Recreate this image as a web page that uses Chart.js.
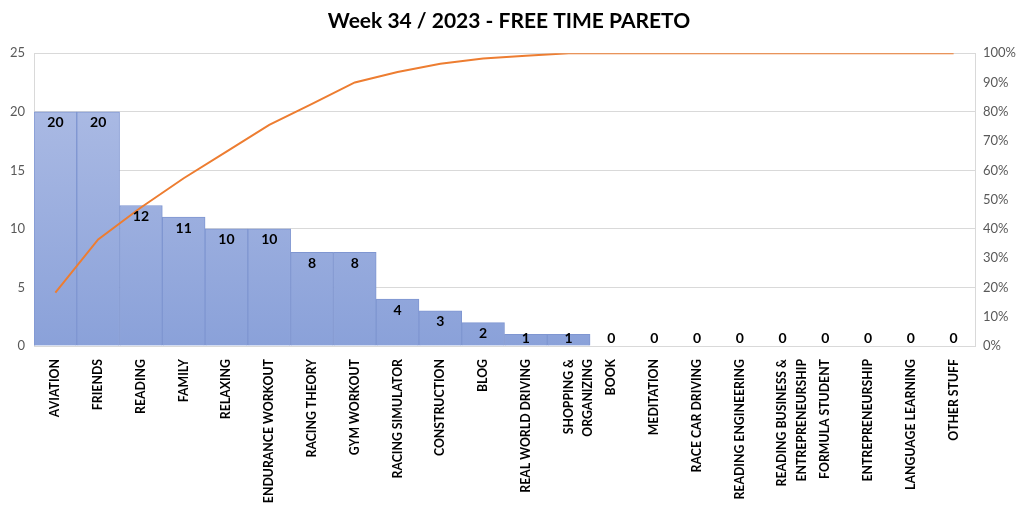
<!DOCTYPE html>
<html>
<head>
<meta charset="utf-8">
<script src="https://cdn.jsdelivr.net/npm/chart.js@4"></script>
<style>
  html, body { margin: 0; padding: 0; background: #fff; }
  #wrap { width: 1023px; height: 510px; }
</style>
</head>
<body>
<div id="wrap"><canvas id="myChart" width="1023" height="510"></canvas></div>
<script>
const categories = ['AVIATION', 'FRIENDS', 'READING', 'FAMILY', 'RELAXING', 'ENDURANCE WORKOUT',
  'RACING THEORY', 'GYM WORKOUT', 'RACING SIMULATOR', 'CONSTRUCTION', 'BLOG', 'REAL WORLD DRIVING',
  ['SHOPPING &', 'ORGANIZING'], 'BOOK', 'MEDITATION', 'RACE CAR DRIVING', 'READING ENGINEERING',
  ['READING BUSINESS &', 'ENTREPRENEURSHIP'], 'FORMULA STUDENT', 'ENTREPRENEURSHIP',
  'LANGUAGE LEARNING', 'OTHER STUFF'];
const hours = [20, 20, 12, 11, 10, 10, 8, 8, 4, 3, 2, 1, 1, 0, 0, 0, 0, 0, 0, 0, 0, 0];
const cumulativePct = [18.2, 36.4, 47.3, 57.3, 66.4, 75.5, 82.7, 90.0, 93.6, 96.4, 98.2, 99.1,
  100, 100, 100, 100, 100, 100, 100, 100, 100, 100];
const leftTicks = [0, 5, 10, 15, 20, 25];

const FONT = 'Lato, "Open Sans", sans-serif';
const ctx = document.getElementById('myChart');

// bar values drawn inside the top of each bar
const barLabels = {
  id: 'barLabels',
  afterDatasetsDraw(chart) {
    const c = chart.ctx;
    const meta = chart.getDatasetMeta(1);
    const base = chart.scales.y.getPixelForValue(0);
    c.save();
    c.font = 'bold 14px ' + FONT;
    c.fillStyle = '#000';
    c.textAlign = 'center';
    c.textBaseline = 'middle';
    meta.data.forEach((bar, i) => {
      let y = Math.min(bar.y + 11, base - 8);
      c.fillText(hours[i], bar.x, y);
    });
    c.restore();
  }
};

let myChart = new Chart(ctx, {
  data: {
    labels: categories,
    datasets: [{
      type: 'line',
      label: 'cumulative',
      data: cumulativePct,
      yAxisID: 'y1',
      borderColor: '#ED7D31',
      borderWidth: 2,
      pointRadius: 0,
      tension: 0,
      order: 0
    }, {
      type: 'bar',
      label: 'hours',
      data: hours,
      yAxisID: 'y',
      backgroundColor: function(context) {
        const area = context.chart.chartArea;
        if (!area) return '#98ACDE';
        const g = context.chart.ctx.createLinearGradient(0, area.top, 0, area.bottom);
        g.addColorStop(0, '#B1BFE6');
        g.addColorStop(1, '#8AA1D9');
        return g;
      },
      borderColor: '#7F96D1',
      borderWidth: 1,
      categoryPercentage: 1,
      barPercentage: 1,
      order: 1
    }]
  },
  options: {
    responsive: false,
    animation: false,
    layout: { padding: { left: 0, right: 5, top: 0, bottom: 0 } },
    plugins: {
      legend: { display: false },
      tooltip: { enabled: false },
      title: {
        display: true,
        text: 'Week 34 / 2023 - FREE TIME PARETO',
        color: '#000',
        font: { family: FONT, size: 21, weight: 'bold' },
        padding: { top: 9, bottom: 19 }
      }
    },
    scales: {
      x: {
        grid: { display: false },
        border: { display: true, color: '#D9D9D9' },
        ticks: {
          color: '#000',
          minRotation: 90,
          maxRotation: 90,
          autoSkip: false,
          padding: 5,
          font: { family: FONT, size: 12.3, weight: 'bold', lineHeight: 1.55 }
        },
        afterFit(scale) { scale.height = 164; }
      },
      y: {
        position: 'left',
        min: 0,
        max: 25,
        afterBuildTicks(scale) { scale.ticks = leftTicks.map(v => ({ value: v })); },
        grid: { color: '#D9D9D9', drawTicks: false },
        border: { display: true, color: '#D9D9D9' },
        ticks: {
          color: '#595959',
          padding: 9,
          font: { family: FONT, size: 13 }
        },
        afterFit(scale) { scale.width = 34; }
      },
      y1: {
        position: 'right',
        min: 0,
        max: 100,
        grid: { display: false, drawTicks: false },
        border: { display: true, color: '#D9D9D9' },
        ticks: {
          stepSize: 10,
          color: '#595959',
          padding: 8,
          callback: v => v + '%',
          font: { family: FONT, size: 13 }
        },
        afterFit(scale) { scale.width = 43; }
      }
    }
  },
  plugins: [barLabels]
});
</script>
</body>
</html>
